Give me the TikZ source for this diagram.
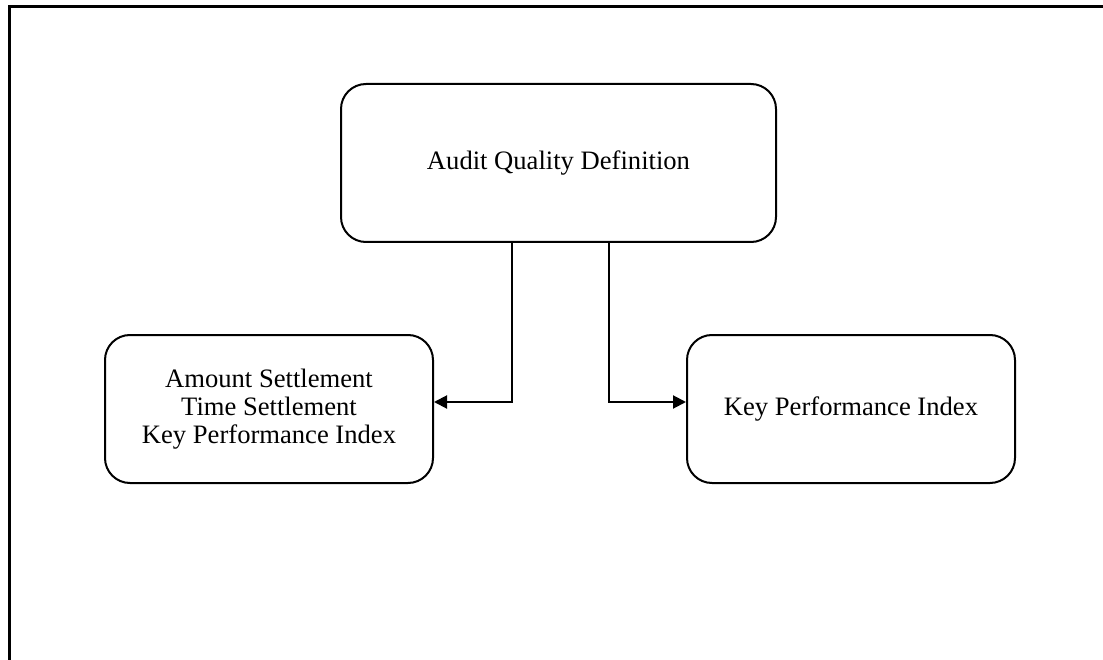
\documentclass[tikz,border=0pt]{standalone}
\usepackage{fontspec}
\setmainfont{Liberation Serif}
\usetikzlibrary{arrows.meta}
\begin{document}
\begin{tikzpicture}[x=1pt,y=-1pt,
  box/.style={draw=black,line width=2pt,rounded corners=25pt,inner sep=0pt,align=center,
    font=\fontsize{26.6}{28}\selectfont},
  arr/.style={draw=black,line width=2pt,-{Triangle[length=13pt,width=13pt]}},
  frame/.style={draw=black,line width=3pt}]
\useasboundingbox (0,0) rectangle (1103,660);
\coordinate (fb) at (9,660);
\coordinate (fc) at (9,7);
\coordinate (fr) at (1103,7);
\draw[frame] (fb) -- (fc) -- (fr);
\node[box,minimum width=435pt,minimum height=158pt] (top) at (558.5,163) {Audit Quality Definition};
\node[box,minimum width=328pt,minimum height=148pt] (left) at (269,409) {Amount Settlement\\Time Settlement\\Key Performance Index};
\node[box,minimum width=328pt,minimum height=148pt] (right) at (851,409) {Key Performance Index};
\draw[arr] ([xshift=-46.5pt]top.south) |- ([yshift=7pt]left.east);
\draw[arr] ([xshift=50.5pt]top.south) |- ([yshift=7pt]right.west);
\end{tikzpicture}
\end{document}
